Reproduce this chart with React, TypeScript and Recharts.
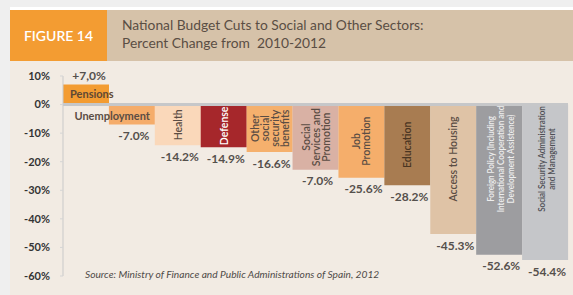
import { BarChart, Bar, XAxis, YAxis, Cell, LabelList, ReferenceLine } from "recharts"

const categories = [
  "Pensions",
  "Unemployment",
  "Health",
  "Defense",
  "Other\nsocial\nsecurity\nbenefits",
  "Social\nServices and\nPromotion",
  "Job\nPromotion",
  "Education",
  "Access to Housing",
  "Foreign Policy (Including\nInternational Cooperation and\nDevelopment Assistence)",
  "Social Security Administration\nand Management",
]

const changes = [7, -7, -14.2, -14.9, -16.6, -22.8, -25.6, -28.2, -45.3, -52.6, -54.4]

const valueLabels = [
  "+7,0%", "-7.0%", "-14.2%", "-14.9%", "-16.6%", "-7.0%",
  "-25.6%", "-28.2%", "-45.3%", "-52.6%", "-54.4%",
]

const yTicks = [10, 0, -10, -20, -30, -40, -50, -60]

const barColors = [
  "#F39C32", "#F5AC6A", "#FAD8BA", "#A6272B", "#F5B06D", "#D9B1A4",
  "#F5AE6B", "#A87C51", "#DFC3A6", "#9D9DA0", "#C5C6C9",
]
const textColors = [
  "#5E4834", "#5B4D44", "#5B4D44", "#FFFFFF", "#5B4D44", "#5B4D44",
  "#5B4D44", "#4A3522", "#5B4D44", "#EEEEEE", "#4F4F55",
]

const data = categories.map((name, i) => ({
  name,
  value: changes[i],
  label: valueLabels[i],
}))

const FONT = "Lato, 'Open Sans', sans-serif"

function renderValue(props: any) {
  const { x, y, width, height, index, value } = props
  const top = Math.min(y, y + height)
  const bottom = Math.max(y, y + height)
  const cx = x + width / 2
  const positive = changes[index] > 0
  return (
    <text
      x={cx + (positive ? 3 : 2)}
      y={positive ? top - 9 : bottom + 11}
      textAnchor="middle"
      dominantBaseline="central"
      fontSize={12}
      fontWeight={700}
      fill="#55504C"
      fontFamily={FONT}
    >
      {value}
    </text>
  )
}

function renderCategory(props: any) {
  const { x, y, width, height, index, value } = props
  const top = Math.min(y, y + height)
  const bottom = Math.max(y, y + height)
  const h = bottom - top
  const color = textColors[index]
  const lines = String(value).split("\n")

  if (h < 25) {
    // short bars get a flat label
    const positive = changes[index] > 0
    return (
      <text
        x={positive ? x + 7 : x + width - 5}
        y={positive ? top + h / 2 - 1 : top + h / 2 + 1}
        textAnchor={positive ? "start" : "end"}
        dominantBaseline="central"
        fontSize={11}
        fontWeight={700}
        fill={color}
        fontFamily={FONT}
      >
        {value}
      </text>
    )
  }

  // long labels are squeezed along the baseline
  const longest = Math.max(...lines.map((l) => l.length))
  const squeeze = longest > 22 ? 0.8 : 1
  const fs = longest > 22 ? 10 : 10.5
  const cx = x + width / 2
  const cy = Math.min(top + h / 2, 159)
  const lh = 10
  return (
    <g transform={`translate(${cx}, ${cy}) rotate(-90) scale(${squeeze}, 1)`}>
      <text
        textAnchor="middle"
        dominantBaseline="central"
        fontSize={fs}
        fontWeight={600}
        fill={color}
        fontFamily={FONT}
      >
        {lines.map((ln, i) => (
          <tspan key={i} x={0} y={(i - (lines.length - 1) / 2) * lh}>
            {ln}
          </tspan>
        ))}
      </text>
    </g>
  )
}

export default function App() {
  return (
    <div
      style={{
        position: "absolute",
        left: 0,
        top: 0,
        width: 573,
        height: 295,
        background: "#EFEFEF",
        overflow: "hidden",
        fontFamily: FONT,
      }}
    >
      <div style={{ position: "absolute", left: 10, top: 7, right: 0, bottom: 0, background: "#FFFFFF" }} />
      <div style={{ position: "absolute", left: 10, top: 10, right: 0, bottom: 0, background: "#F2EBE3" }} />
      <div
        style={{
          position: "absolute",
          left: 10,
          top: 10,
          width: 97,
          height: 51,
          background: "#F39C32",
          color: "#FFFFFF",
          fontSize: 14,
          fontWeight: 600,
          lineHeight: "51px",
          textAlign: "center",
        }}
      >
        FIGURE 14
      </div>
      <div
        style={{
          position: "absolute",
          left: 107,
          top: 10,
          right: 0,
          height: 51,
          background: "#D6C2A9",
        }}
      />
      <div
        style={{
          position: "absolute",
          left: 122,
          top: 16,
          color: "#5A4E44",
          fontSize: 13.8,
          lineHeight: "18px",
          whiteSpace: "pre",
        }}
      >
        {"National Budget Cuts to Social and Other Sectors:\nPercent Change from  2010-2012"}
      </div>

      <div style={{ position: "absolute", left: 0, top: 0 }}>
        <BarChart
          width={573}
          height={295}
          data={data}
          margin={{ top: 76, right: 5, bottom: 19, left: 0 }}
          barCategoryGap={0}
        >
          <XAxis dataKey="name" hide />
          <YAxis
            width={63}
            domain={[-60, 10]}
            ticks={yTicks}
            interval={0}
            tickFormatter={(v: number) => `${v}%`}
            axisLine={{ stroke: "#C9C9C9" }}
            tickLine={{ stroke: "#D5D5D5" }}
            tickSize={3}
            tickMargin={10}
            tick={{ fontSize: 11, fontWeight: 700, fill: "#333333", fontFamily: FONT }}
          />
          <Bar dataKey="value" isAnimationActive={false}>
            {data.map((_, i) => (
              <Cell key={i} fill={barColors[i]} />
            ))}
            <LabelList dataKey="label" content={renderValue} />
            <LabelList dataKey="name" content={renderCategory} />
          </Bar>
          <ReferenceLine y={0} stroke="#C6C7C9" strokeWidth={3} />
        </BarChart>
      </div>

      <div
        style={{
          position: "absolute",
          left: 85,
          top: 268,
          fontSize: 10.2,
          fontStyle: "italic",
          color: "#4E4A47",
          whiteSpace: "nowrap",
        }}
      >
        Source: Ministry of Finance and Public Administrations of Spain, 2012
      </div>
    </div>
  )
}
